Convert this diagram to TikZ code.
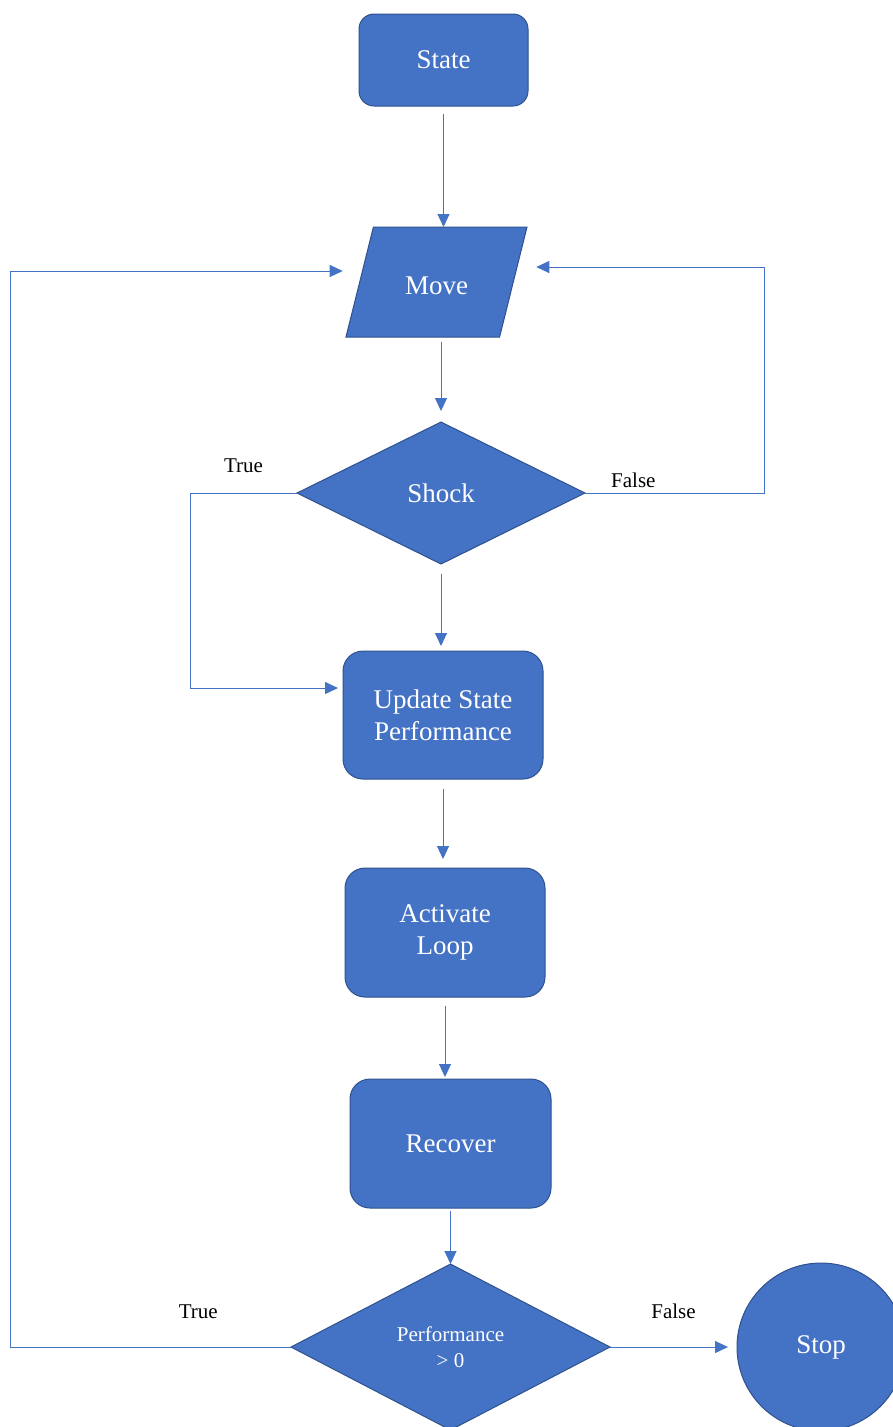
\documentclass[tikz,border=0pt]{standalone}
\usepackage{xcolor}
\usepackage{fontspec}
\setmainfont{Liberation Serif}
\usepackage{tikz}
\usetikzlibrary{shapes.geometric, positioning, arrows.meta}
\definecolor{boxblue}{HTML}{4472C4}
\definecolor{edgeblue}{HTML}{2F528F}
\tikzstyle{process} = [rectangle, rounded corners=20pt, minimum width=200pt, minimum height=128pt, outer sep=0pt, align=center, fill=boxblue, draw=edgeblue, line width=1pt, text=white, font=\fontsize{27}{32}\selectfont]
\tikzstyle{io} = [trapezium, trapezium left angle=76, trapezium right angle=104, trapezium stretches body=true, minimum width=181pt, text height=25pt, text depth=0pt, inner ysep=42.5pt, outer sep=0pt, fill=boxblue, draw=edgeblue, line width=1pt, text=white, font=\fontsize{27}{32}\selectfont]
\tikzstyle{decision} = [diamond, minimum width=288pt, minimum height=142pt, outer sep=0pt, align=center, fill=boxblue, draw=edgeblue, line width=1pt, text=white, font=\fontsize{27}{32}\selectfont]
\tikzstyle{terminal} = [circle, minimum size=168pt, outer sep=0pt, fill=boxblue, draw=edgeblue, line width=1pt, text=white, font=\fontsize{27}{32}\selectfont]
\tikzstyle{arrow} = [draw=boxblue, line width=1pt, -{Triangle[length=13pt, width=12pt]}]
\tikzstyle{branch} = [font=\fontsize{21}{25}\selectfont, text=black]

\begin{document}
\begin{tikzpicture}[x=1pt, y=-1pt]
		\useasboundingbox (0,0) rectangle (893,1427);
		\clip (0,0) rectangle (893,1427);
		% main column
		\node (State)[process, minimum width=169pt, minimum height=92pt, rounded corners=15pt] at (443.5,60) {State};
		\node (Move)[io, below=121pt of State, xshift=-7pt]{Move};
		\node (Shock)[decision, below=85pt of Move, xshift=4.5pt]{Shock};
		\node (Update)[process, below=87pt of Shock, xshift=2pt]{Update State\\Performance};
		\node (Activate)[process, minimum height=129pt, below=89pt of Update, xshift=2pt]{Activate\\Loop};
		\node (Recover)[process, minimum width=201pt, minimum height=129pt, below=82pt of Activate, xshift=5.5pt]{Recover};
		\node (Check)[decision, minimum width=319pt, minimum height=166pt, font=\fontsize{21}{26}\selectfont, below=56pt of Recover]{Performance\\> 0};
		\node (Stop)[terminal, right=127pt of Check]{Stop};
		% straight arrows
		\draw [arrow, shorten <=8pt] (State.south) -- (State.south |- Move.north);
		\draw [arrow, shorten <=5pt, shorten >=11pt] (Shock.north |- Move.south) -- (Shock.north);
		\draw [arrow, shorten <=10pt, shorten >=5pt] (Shock.south) -- (Shock.south |- Update.north);
		\draw [arrow, shorten <=10pt, shorten >=9pt] (Update.south) -- (Update.south |- Activate.north);
		\draw [arrow, shorten <=9pt, shorten >=2pt] (Activate.south) -- (Activate.south |- Recover.north);
		\draw [arrow, shorten <=3pt] (Recover.south) -- (Recover.south |- Check.north);
		% branches
		\draw [arrow, shorten >=5pt] (Shock.west) -- node[branch, above=16pt]{True} ++(-107,0) |- ([yshift=27pt]Update.west);
		\draw [arrow, shorten >=23pt] (Shock.east) -- node[branch, pos=0.27, above=1pt]{False} ++(179,0) |- ([yshift=15pt]Move.east);
		\draw [arrow, shorten >=17pt] (Check.west) -- node[branch, pos=0.33, above=24pt]{True} ++(-281,0) |- ([yshift=11pt]Move.west);
		\draw [arrow, shorten >=9pt] (Check) -- node[branch, above=24pt]{False} (Stop);
	\end{tikzpicture}
\end{document}
